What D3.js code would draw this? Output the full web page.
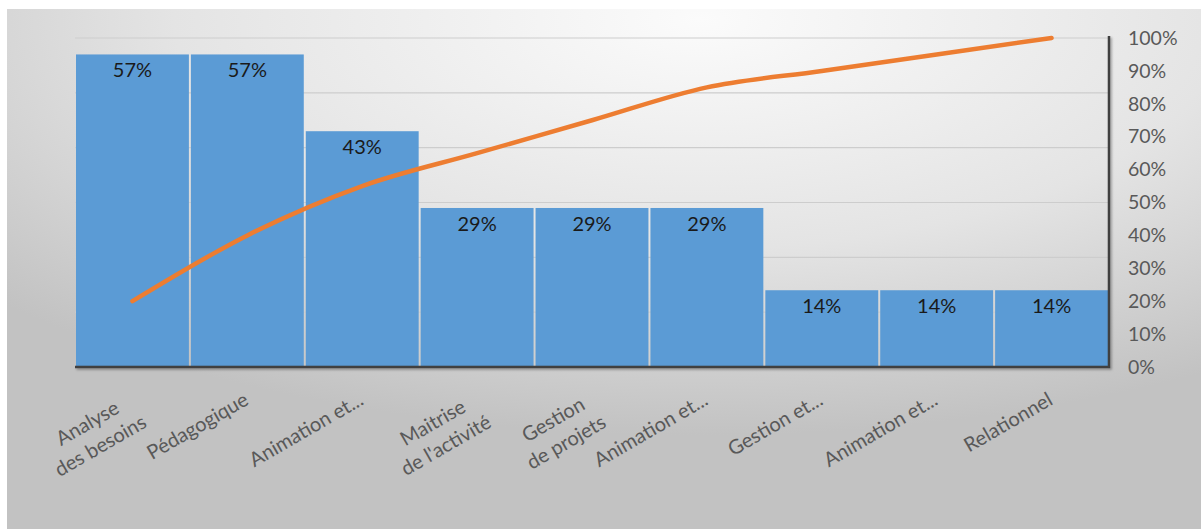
<!DOCTYPE html>
<html><head><meta charset="utf-8">
<script src="https://cdn.jsdelivr.net/npm/d3@7"></script>
<style>html,body{margin:0;padding:0;background:#fff;}svg{display:block;}</style>
</head><body>
<svg id="chart" width="1201" height="529"></svg>
<script>
// ---- data ----
const categories = ["Analyse\ndes besoins","Pédagogique","Animation et...","Maitrise\nde l'activité","Gestion\nde projets","Animation et...","Gestion et...","Animation et...","Relationnel"];
const shares = [0.57,0.57,0.43,0.29,0.29,0.29,0.14,0.14,0.14];
const cumulative = [0.20,0.40,0.55,0.65,0.75,0.85,0.90,0.95,1.00];
const rightTicks = [0,0.1,0.2,0.3,0.4,0.5,0.6,0.7,0.8,0.9,1.0];
const gridTicks = [0.1,0.2,0.3,0.4,0.5,0.6];

(function(){
const svg = d3.select("#chart");
const FONT = "Lato, 'Open Sans', sans-serif";

// background
const defs = svg.append("defs");
const rg = defs.append("radialGradient").attr("id","bg").attr("cx","0.58").attr("cy","0.02").attr("r","0.8");
rg.append("stop").attr("offset","0").attr("stop-color","#fbfbfb");
rg.append("stop").attr("offset","0.55").attr("stop-color","#e4e4e4");
rg.append("stop").attr("offset","1").attr("stop-color","#c2c2c2");
const sh = defs.append("filter").attr("id","sh").attr("x","-5%").attr("y","-5%").attr("width","110%").attr("height","120%");
sh.append("feDropShadow").attr("dx",1.5).attr("dy",1.5).attr("stdDeviation",1.2).attr("flood-color","#000").attr("flood-opacity",0.35);

svg.append("rect").attr("x",7).attr("y",9).attr("width",1194).attr("height",520).attr("fill","url(#bg)");

const pl = 75, pr = 1109, pt = 38, pb = 367;
const x = d3.scaleBand().domain(d3.range(categories.length)).range([pl,pr]).padding(0);
const yL = d3.scaleLinear().domain([0,0.6]).range([pb,pt]);
const yR = d3.scaleLinear().domain([0,1]).range([pb,pt]);

// gridlines (from hidden primary axis)
svg.append("g").selectAll("line").data(gridTicks).join("line")
  .attr("x1",pl).attr("x2",pr)
  .attr("y1",d=>yL(d)).attr("y2",d=>yL(d))
  .attr("stroke","#cdcdcd").attr("stroke-width",1.2);

// bars
svg.append("g").selectAll("rect").data(shares).join("rect")
  .attr("x",(d,i)=>x(i)+1).attr("width",x.bandwidth()-2)
  .attr("y",d=>yL(d)).attr("height",d=>pb-yL(d))
  .attr("fill","#5b9bd5");

// bar labels
svg.append("g").selectAll("text").data(shares).join("text")
  .attr("x",(d,i)=>x(i)+x.bandwidth()/2).attr("y",d=>yL(d)+23)
  .attr("text-anchor","middle").attr("font-family",FONT).attr("font-size",20)
  .attr("fill","#1a1a1a").text(d=>d3.format(".0%")(d));

// cumulative line
const line = d3.line().x((d,i)=>x(i)+x.bandwidth()/2).y(d=>yR(d)).curve(d3.curveMonotoneX);
svg.append("path").datum(cumulative).attr("d",line)
  .attr("fill","none").attr("stroke","#ed7d31").attr("stroke-width",4.5).attr("stroke-linecap","round");

// axes lines
const axG = svg.append("g").attr("filter","url(#sh)");
axG.append("path").attr("d",`M${pl},${pb}H${pr}V${pt-2}`)
  .attr("fill","none").attr("stroke","#404040").attr("stroke-width",2.5);

// right axis
const ra = svg.append("g").attr("transform",`translate(${pr},0)`)
  .call(d3.axisRight(yR).tickValues(rightTicks).tickSize(0).tickPadding(19).tickFormat(d3.format(".0%")));
ra.select(".domain").remove();
ra.selectAll("text").attr("font-family",FONT).attr("font-size",19.5).attr("fill","#595959");

// bottom axis labels: rotated block, top-right corner anchored at the tick
const ba = svg.append("g").attr("transform",`translate(0,${pb})`)
  .call(d3.axisBottom(x).tickSize(0).tickFormat(""));
ba.select(".domain").remove();
const ang = -30, lineH = 26, asc = 17;
ba.selectAll(".tick").each(function(i){
  const t = d3.select(this);
  t.select("text").remove();
  const lines = categories[i].split("\n");
  const txt = t.append("text").attr("transform",`translate(-6,22) rotate(${ang})`)
    .attr("text-anchor","end").attr("font-family",FONT).attr("font-size",20).attr("fill","#595959");
  const spans = lines.map((l,k)=>txt.append("tspan").attr("x",0).attr("y",asc + k*lineH).text(l));
  const widths = spans.map(s=>s.node().getComputedTextLength());
  const W = d3.max(widths);
  spans.forEach((s,k)=>s.attr("x", -(W - widths[k])/2));
});
})();
</script>
</body></html>
